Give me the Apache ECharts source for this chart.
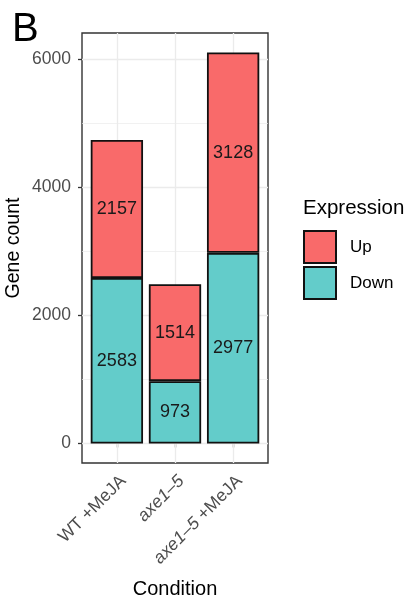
<!DOCTYPE html>
<html>
<head>
<meta charset="utf-8">
<script src="https://cdn.jsdelivr.net/npm/echarts@6/dist/echarts.min.js"></script>
<style>
html,body{margin:0;padding:0;background:#fff;}
#c{width:417px;height:604px;}
</style>
</head>
<body>
<div id="c"></div>
<script>
const categories = ['WT +MeJA', 'axe1\u20135', 'axe1\u20135 +MeJA'];
const downValues = [2583, 973, 2977];
const upValues = [2157, 1514, 3128];
const yTicks = [0, 2000, 4000, 6000];
const yMinorTicks = [1000, 3000, 5000];
const xTicks = [1, 2, 3];

const FONT = '"Liberation Sans", Arial, Helvetica, sans-serif';
const totals = downValues.map((d, i) => d + upValues[i]);
const maxTotal = Math.max(...totals);
const pad = maxTotal * 0.05;

// panel geometry (ggplot discrete expansion 0.6 units each side)
const P_LEFT = 82, P_RIGHT = 268, P_TOP = 33, P_BOTTOM = 463, H = 604, W = 417;
const unit = (P_RIGHT - P_LEFT) / 3.2;

function labelFor(i) {
  const c = categories[i];
  if (c.startsWith('axe1\u20135')) {
    const rest = c.slice('axe1\u20135'.length);
    return '{i|axe1\u20135}' + (rest ? '{n|' + rest + '}' : '');
  }
  return '{n|' + c + '}';
}

const chart = echarts.init(document.getElementById('c'), null, {renderer: 'canvas'});
chart.setOption({
  animation: false,
  backgroundColor: '#fff',
  textStyle: {fontFamily: FONT},
  grid: [
    {
      left: P_LEFT, right: W - P_RIGHT, top: P_TOP, bottom: H - P_BOTTOM,
      show: true, backgroundColor: '#fff', borderColor: '#333333', borderWidth: 1.4, z: 0
    },
    {
      left: P_LEFT + unit * 0.1, right: W - P_RIGHT + unit * 0.1, top: P_TOP, bottom: H - P_BOTTOM,
      show: false
    }
  ],
  xAxis: [
    {
      gridIndex: 0, type: 'value', min: 0.4, max: 3.6,
      name: 'Condition', nameLocation: 'middle', nameGap: 116,
      nameTextStyle: {fontSize: 20, color: '#000', fontFamily: FONT},
      axisLine: {show: false},
      splitLine: {show: false},
      axisTick: {show: true, customValues: xTicks, length: 4, lineStyle: {color: '#333', width: 1.3}},
      axisLabel: {
        customValues: xTicks, rotate: 45, margin: 9, align: 'right', verticalAlign: 'top',
        formatter: v => labelFor(Math.round(v) - 1),
        rich: {
          i: {fontStyle: 'italic', fontSize: 17.5, color: '#4d4d4d', fontFamily: FONT},
          n: {fontSize: 17.5, color: '#4d4d4d', fontFamily: FONT}
        }
      }
    },
    {
      gridIndex: 1, type: 'category', data: categories, boundaryGap: true,
      show: false
    }
  ],
  yAxis: [
    {
      gridIndex: 0, type: 'value', min: -pad, max: maxTotal + pad,
      name: 'Gene count', nameLocation: 'middle', nameGap: 58,
      nameTextStyle: {fontSize: 19.5, color: '#000', fontFamily: FONT},
      axisLine: {show: false},
      splitLine: {show: false},
      axisTick: {show: true, customValues: yTicks, length: 4, lineStyle: {color: '#333', width: 1.3}},
      axisLabel: {customValues: yTicks, margin: 11, fontSize: 17.5, color: '#4d4d4d', fontFamily: FONT, formatter: v => String(v)}
    },
    {
      gridIndex: 1, type: 'value', min: -pad, max: maxTotal + pad, show: false, splitLine: {show: false}
    }
  ],
  legend: {
    data: ['Up', 'Down'],
    orient: 'vertical', left: 303, top: 230, padding: 0,
    itemWidth: 32, itemHeight: 32, itemGap: 2,
    icon: 'rect',
    textStyle: {fontSize: 17, color: '#000', fontFamily: FONT, padding: [0, 0, 0, 9]}
  },
  graphic: [
    {type: 'text', left: 12, top: 10, style: {text: 'B', fontSize: 40, fontFamily: FONT, fill: '#000'}},
    {type: 'text', left: 303, top: 198, style: {text: 'Expression', fontSize: 20.5, fontFamily: FONT, fill: '#000'}}
  ],
  series: [
    {
      name: 'grid', type: 'line', xAxisIndex: 0, yAxisIndex: 0, data: [], z: 1, silent: true,
      markLine: {
        silent: true, symbol: 'none', label: {show: false}, animation: false, z: 1,
        data: [
          ...yMinorTicks.map(v => ({yAxis: v, lineStyle: {color: '#ebebeb', width: 0.7, type: 'solid'}})),
          ...yTicks.map(v => ({yAxis: v, lineStyle: {color: '#ebebeb', width: 1.3, type: 'solid'}})),
          ...xTicks.map(v => ({xAxis: v, lineStyle: {color: '#ebebeb', width: 1.3, type: 'solid'}}))
        ]
      }
    },
    {
      name: 'Down', type: 'bar', stack: 'g', z: 5, barWidth: '90%',
      xAxisIndex: 1, yAxisIndex: 1,
      data: downValues,
      itemStyle: {color: '#63CCCA', borderColor: '#111', borderWidth: 1.8},
      label: {show: true, position: 'inside', fontSize: 18, color: '#1a1a1a', fontFamily: FONT, formatter: p => String(p.value)}
    },
    {
      name: 'Up', type: 'bar', stack: 'g', z: 5, barWidth: '90%',
      xAxisIndex: 1, yAxisIndex: 1,
      data: upValues,
      itemStyle: {color: '#F96A6A', borderColor: '#111', borderWidth: 1.8},
      label: {show: true, position: 'inside', fontSize: 18, color: '#1a1a1a', fontFamily: FONT, formatter: p => String(p.value)}
    }
  ]
});
</script>
</body>
</html>
